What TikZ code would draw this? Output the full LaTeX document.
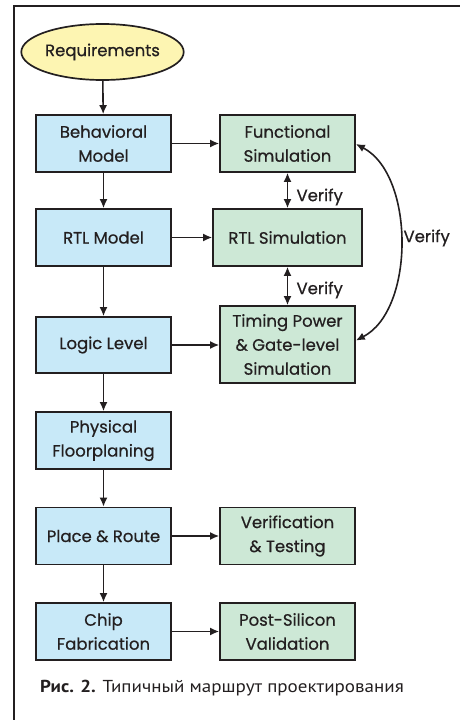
\documentclass[tikz,border=0pt]{standalone}
\usepackage{fontspec}
\newfontfamily\boxfont[FakeBold=0.6]{Poppins}
\newfontfamily\capfont[FakeStretch=1.1]{PT Sans}
\usetikzlibrary{shapes.geometric,arrows.meta}
\definecolor{bluefill}{HTML}{C8E9F8}
\definecolor{greenfill}{HTML}{CDE8D6}
\definecolor{yellowfill}{HTML}{FDF5B2}
\definecolor{ink}{HTML}{231F20}
\begin{document}
\begin{tikzpicture}[x=1pt,y=-1pt,
  box/.style={draw=ink, line width=1.7pt, minimum width=135pt, minimum height=57pt, inner sep=0pt, align=center, font=\boxfont\fontsize{16.5}{24}\selectfont, text=ink},
  bbox/.style={box, fill=bluefill},
  gbox/.style={box, fill=greenfill},
  arr/.style={-{Latex[length=9pt,width=8pt]}, line width=1.6pt, draw=ink},
  darr/.style={{Latex[length=9pt,width=8pt]}-{Latex[length=9pt,width=8pt]}, line width=1.6pt, draw=ink},
  lbl/.style={font=\boxfont\fontsize{16.5}{20}\selectfont, text=ink}
]
\useasboundingbox (0,0) rectangle (469,720);
\draw[ink, line width=1.2pt] (14,720) -- (14,6) -- (460,6);
\node[ellipse, draw=ink, fill=yellowfill, line width=1.7pt, minimum width=136pt, minimum height=56pt, inner sep=0pt, font=\boxfont\fontsize{16.5}{24}\selectfont, text=ink] (req) at (102.5,52) {Requirements};
\node[bbox] (beh) at (103.5,143.5) {Behavioral\\Model};
\node[gbox] (fun) at (287.5,143.5) {Functional\\Simulation};
\node[bbox] (rtl) at (103.5,237.5) {RTL Model};
\node[gbox, minimum width=149pt] (rtls) at (287.5,237.5) {RTL Simulation};
\node[bbox, minimum height=56pt] (log) at (103.5,345) {Logic Level};
\node[gbox, minimum height=77pt] (tim) at (287.5,344.5) {Timing Power\\\& Gate-level\\Simulation};
\node[bbox] (phy) at (103.5,440.5) {Physical\\Floorplaning};
\node[bbox] (pr) at (103.5,536) {Place \& Route};
\node[gbox] (ver) at (287.5,536) {Verification\\\& Testing};
\node[bbox] (chip) at (103.5,631.5) {Chip\\Fabrication};
\node[gbox] (post) at (287.5,631.5) {Post-Silicon\\Validation};
\draw[arr] (req) -- (beh);
\draw[arr] (beh) -- (rtl);
\draw[arr] (rtl) -- (log);
\draw[arr] (log) -- (phy);
\draw[arr] (phy) -- (pr);
\draw[arr] (pr) -- (chip);
\draw[arr] (beh) -- (fun);
\draw[arr] (rtl) -- (rtls);
\draw[arr] (log.east) -- (log.east -| tim.west);
\draw[arr] (pr) -- (ver);
\draw[arr] (chip) -- (post);
\draw[darr] (fun) -- (rtls);
\draw[darr] (rtls) -- (tim);
\node[lbl, anchor=west] (v1) at (293,197) {Verify};
\node[lbl, anchor=west] (v2) at (293,290) {Verify};
\draw[darr] ([yshift=-0.5pt]fun.east) .. controls (415,175) and (415,310) .. ([yshift=4pt]tim.east);
\node[lbl, anchor=west] (v3) at (400,238) {Verify};
\node[anchor=west, font=\capfont\fontsize{17.3}{20}\selectfont, text=ink, inner sep=0pt] (cap) at (40,688) {\textbf{Рис. 2.} Типичный маршрут проектирования};
\end{tikzpicture}
\end{document}
